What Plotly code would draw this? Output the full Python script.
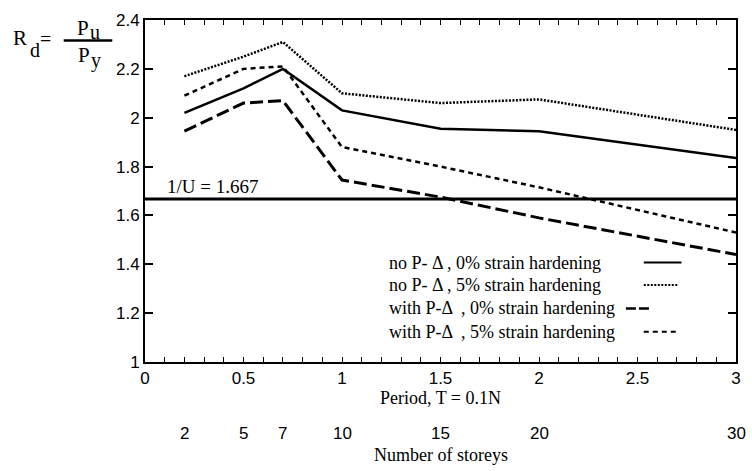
import plotly.graph_objects as go

# ---- data ----
period_T = [0.2, 0.5, 0.7, 1.0, 1.5, 2.0, 3.0]
storeys = [2, 5, 7, 10, 15, 20, 30]

no_pd_0pct = [2.02, 2.12, 2.20, 2.03, 1.955, 1.945, 1.835]
no_pd_5pct = [2.17, 2.25, 2.31, 2.10, 2.06, 2.075, 1.95]
with_pd_0pct = [1.945, 2.06, 2.07, 1.745, 1.675, 1.59, 1.44]
with_pd_5pct = [2.09, 2.20, 2.21, 1.88, 1.80, 1.715, 1.53]

ref_x = [0, 3]
ref_value = 1.667
ref_y = [ref_value, ref_value]

series_names = [
    "no P- Δ , 0% strain hardening",
    "no P- Δ , 5% strain hardening",
    "with P-Δ  , 0% strain hardening",
    "with P-Δ  , 5% strain hardening",
]
series_values = [no_pd_0pct, no_pd_5pct, with_pd_0pct, with_pd_5pct]

SERIF = "Liberation Serif"
SANS = "Liberation Sans"

styles = [
    dict(dash="solid", width=2.5),
    dict(dash="2px,1.5px", width=2.5),
    dict(dash="13px,5px", width=3),
    dict(dash="5px,4px", width=2.5),
]
sample_dash = ["solid", "2px,1.5px", "10px,3px", "5px,4px"]

fig = go.Figure()
for name, vals, st in zip(series_names, series_values, styles):
    fig.add_trace(go.Scatter(x=period_T, y=vals, mode="lines", name=name,
                             line=dict(color="black", **st), showlegend=False))

fig.add_trace(go.Scatter(x=ref_x, y=ref_y, mode="lines", showlegend=False,
                         line=dict(color="black", width=3)))

# plot-area geometry in page pixels
W, H = 752, 471
L, R, T, B = 145, 741, 11, 362

def px(xp):  # page pixel -> paper x
    return (xp - L) / (R - L)

def py(yp):  # page pixel -> paper y
    return (B - yp) / (B - T)

ann = []
shapes = []

def text(xp, yp, s, size, family=SERIF, xanchor="center"):
    ann.append(dict(x=px(xp), y=py(yp), xref="paper", yref="paper", text=s,
                    showarrow=False, xanchor=xanchor, yanchor="middle",
                    font=dict(family=family, size=size, color="black")))

# reference line label
ann.append(dict(x=0.1, y=ref_value, xref="x", yref="y", text="1/U = 1.667",
                showarrow=False, xanchor="left", yanchor="bottom", yshift=0,
                font=dict(family=SERIF, size=19, color="black")))

# legend (text on left, line samples on right)
legend_rows = [260, 283, 307, 331]
sample_x = [(648, 686), (648, 682), (630, 654), (648, 684)]
for name, row, st, dsh, (x0, x1) in zip(series_names, legend_rows, styles, sample_dash, sample_x):
    text(389, row, name, 18, xanchor="left")
    shapes.append(dict(type="line", xref="paper", yref="paper",
                       x0=px(x0), x1=px(x1), y0=py(row), y1=py(row),
                       line=dict(color="black", width=st["width"] - 0.5, dash=dsh)))

# y-axis label R_d = Pu / Py
text(19, 29, "R", 21)
text(34, 42, "d", 20)
text(45, 30, "=", 20)
text(82, 19, "P", 21)
text(95, 23, "u", 20)
text(83, 47, "P", 21)
text(96, 53, "y", 20)
shapes.append(dict(type="line", xref="paper", yref="paper",
                   x0=px(63), x1=px(112), y0=py(32), y1=py(32),
                   line=dict(color="black", width=2.5)))

# x-axis titles and storey numbers
ann.append(dict(x=1.5, y=py(399), xref="x", yref="paper", text="Period, T = 0.1N",
                showarrow=False, xanchor="center", yanchor="middle",
                font=dict(family=SERIF, size=18, color="black")))
for t, n in zip(period_T, storeys):
    ann.append(dict(x=t, y=py(435), xref="x", yref="paper", text=str(n),
                    showarrow=False, xanchor="center", yanchor="middle",
                    font=dict(family=SANS, size=17, color="black")))
ann.append(dict(x=1.5, y=py(457), xref="x", yref="paper", text="Number of storeys",
                showarrow=False, xanchor="center", yanchor="middle",
                font=dict(family=SERIF, size=18, color="black")))

fig.update_layout(
    width=W, height=H,
    margin=dict(l=L, r=W - R, t=T, b=H - B, pad=0),
    paper_bgcolor="white", plot_bgcolor="white",
    annotations=ann, shapes=shapes,
    xaxis=dict(range=[0, 3], dtick=0.5, tick0=0, ticks="inside", ticklen=5,
               tickwidth=1.2, tickcolor="black",
               minor=dict(dtick=0.1, ticks="inside", ticklen=5, tickwidth=1.2, tickcolor="black"),
               showline=True, linecolor="black", linewidth=2, mirror="ticks",
               showgrid=False, zeroline=False,
               tickfont=dict(family=SANS, size=17, color="black")),
    yaxis=dict(range=[1, 2.4], dtick=0.2, tick0=1, ticks="inside", ticklen=8,
               tickwidth=1.5, tickcolor="black",
               showline=True, linecolor="black", linewidth=2, mirror="ticks",
               showgrid=False, zeroline=False,
               tickfont=dict(family=SANS, size=17, color="black")),
)

fig.write_html("out.html", config={"displayModeBar": False},
               post_script="document.body.style.margin='0';document.body.style.overflow='hidden';")
